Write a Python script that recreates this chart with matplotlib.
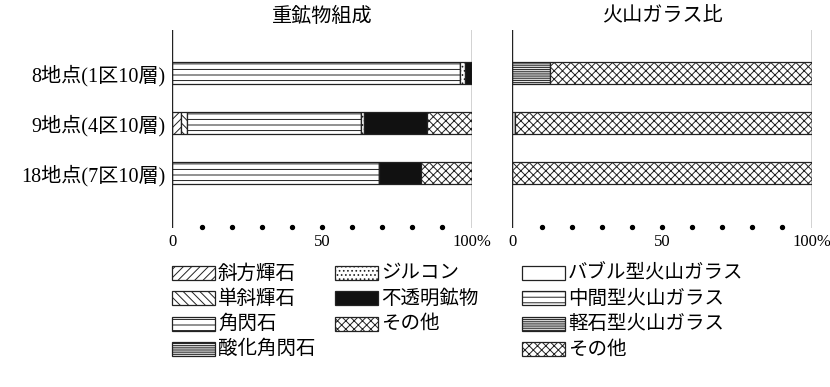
import numpy as np
import matplotlib.pyplot as plt
from matplotlib.patches import Rectangle

# ---------------- data ----------------
sites = ['8地点(1区10層)', '9地点(4区10層)', '18地点(7区10層)']

# heavy mineral composition (%), left panel
mineral_names = ['斜方輝石', '単斜輝石', '角閃石', '酸化角閃石', 'ジルコン', '不透明鉱物', 'その他']
mineral_vals = {
    '斜方輝石':   [0, 3, 0],
    '単斜輝石':   [0, 2, 0],
    '角閃石':     [96, 58, 69],
    '酸化角閃石': [0, 0, 0],
    'ジルコン':   [1.5, 1, 0],
    '不透明鉱物': [2.5, 21, 14],
    'その他':     [0, 15, 17],
}

# volcanic glass ratio (%), right panel
glass_names = ['バブル型火山ガラス', '中間型火山ガラス', '軽石型火山ガラス', 'その他']
glass_vals = {
    'バブル型火山ガラス': [0, 1, 0],
    '中間型火山ガラス':   [0, 0, 0],
    '軽石型火山ガラス':   [12.5, 0, 0],
    'その他':             [87.5, 99, 100],
}

tick_pos = [0, 50, 100]
tick_labels = ['0', '50', '100%']
dot_pos = [10, 20, 30, 40, 50, 60, 70, 80, 90]

# ---------------- styles ----------------
STYLE = {
    '斜方輝石':   dict(facecolor='white', hatch='////'),
    '単斜輝石':   dict(facecolor='white', hatch='\\' * 4),
    '角閃石':     dict(facecolor='white', hatch='---'),
    '酸化角閃石': dict(facecolor='white', hatch='-' * 9),
    'ジルコン':   dict(facecolor='white', hatch='....'),
    '不透明鉱物': dict(facecolor='#111111', hatch=None),
    'その他':     dict(facecolor='white', hatch='xxxx'),
    'バブル型火山ガラス': dict(facecolor='white', hatch=None),
    '中間型火山ガラス':   dict(facecolor='white', hatch='---'),
    '軽石型火山ガラス':   dict(facecolor='white', hatch='-' * 9),
}

JP = ['Noto Sans CJK JP', 'DejaVu Sans']
SERIF = ['Liberation Serif', 'DejaVu Serif']
SERIF_JP = ['Liberation Serif', 'Noto Sans CJK JP']
plt.rcParams['hatch.linewidth'] = 0.7
plt.rcParams['font.family'] = JP

W, H = 830, 387
fig = plt.figure(figsize=(W / 100, H / 100), dpi=100)


def px_axes(x0, x1, y0, y1):
    return fig.add_axes([x0 / W, 1 - y1 / H, (x1 - x0) / W, (y1 - y0) / H])


def draw_panel(ax, names, vals, title, show_labels):
    y = np.arange(len(sites))
    left = np.zeros(len(sites))
    for nm in names:
        v = np.array(vals[nm], dtype=float)
        st = STYLE[nm]
        ax.barh(y, v, left=left, height=0.44, facecolor=st['facecolor'],
                hatch=st['hatch'], edgecolor='#222222', linewidth=0.9)
        left += v
    ax.set_xlim(0, 100)
    ax.set_ylim(2 + 1.1, -0.86)
    for s in ax.spines.values():
        s.set_visible(False)
    ax.axvline(0, color='#222222', lw=1.0)
    ax.axvline(100, color='#222222', lw=1.0)
    ax.scatter(dot_pos, [0.005] * len(dot_pos), s=8, color='black',
               transform=ax.get_xaxis_transform(), clip_on=False, zorder=5)
    ax.set_xticks(tick_pos)
    ax.set_xticklabels(tick_labels, family=SERIF, fontsize=12)
    ax.tick_params(axis='x', length=0, pad=4)
    ax.set_yticks(y)
    if show_labels:
        ax.set_yticklabels(sites, fontsize=14.5, family=SERIF_JP)
        ax.tick_params(axis='y', length=0, pad=5)
    else:
        ax.set_yticklabels([])
        ax.tick_params(axis='y', length=0)
    ax.set_title(title, fontsize=14.5, pad=6)


ax1 = px_axes(172, 472, 30, 228)
ax2 = px_axes(512, 812, 30, 228)
draw_panel(ax1, mineral_names, mineral_vals, '重鉱物組成', True)
draw_panel(ax2, glass_names, glass_vals, '火山ガラス比', False)

# ---------------- legends ----------------
lg = fig.add_axes([0, 0, 1, 1])
lg.set_xlim(0, W)
lg.set_ylim(H, 0)
lg.axis('off')


def legend_column(names, x0, y0, pitch=25.3):
    for i, nm in enumerate(names):
        yc = y0 + i * pitch
        st = STYLE[nm]
        lg.add_patch(Rectangle((x0, yc - 7), 43, 14, facecolor=st['facecolor'],
                               hatch=st['hatch'], edgecolor='#222222', lw=0.9))
        lg.text(x0 + 46, yc, nm, fontsize=14, va='center', ha='left')


legend_column(mineral_names[:4], 172, 273)
legend_column(mineral_names[4:], 335, 273)
legend_column(glass_names, 522, 273)

fig.savefig('out.png', dpi=100)
